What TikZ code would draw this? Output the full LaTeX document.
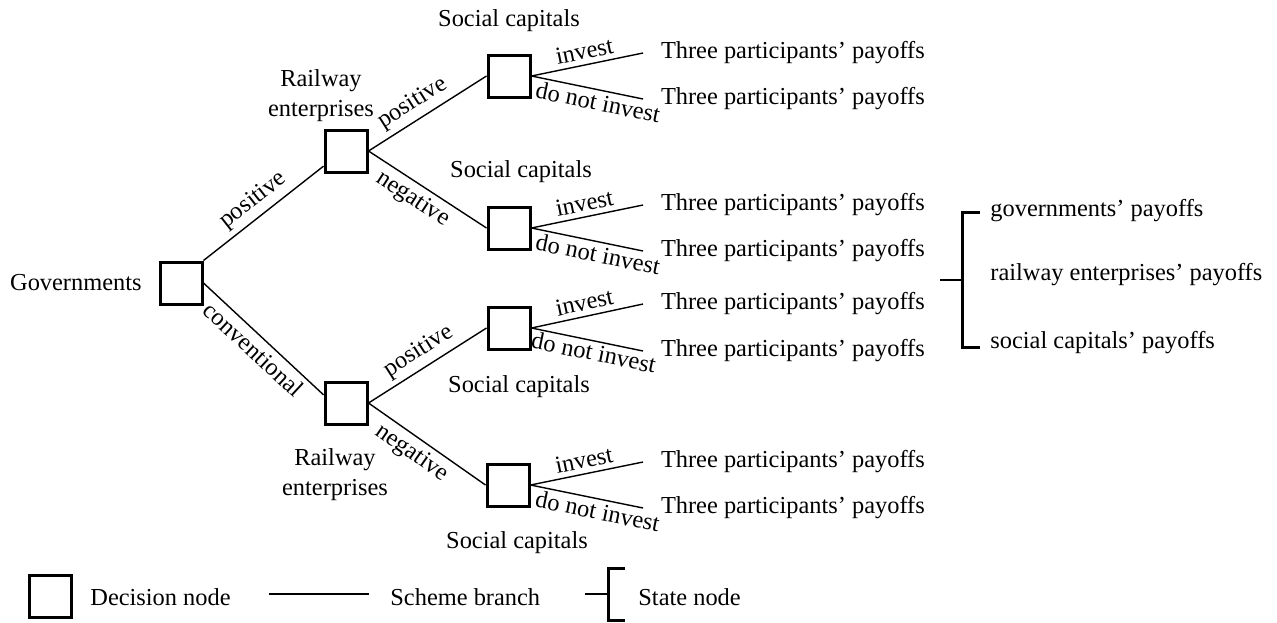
\documentclass[tikz,border=0pt]{standalone}
\usepackage{fontspec}
\setmainfont{Liberation Serif}
\usetikzlibrary{calc}

\begin{document}
\begin{tikzpicture}[
  x=0.5pt, y=-0.5pt,
  every node/.style={font=\fontsize{12.2}{15}\selectfont},
  dbox/.style={draw, line width=1.5pt, minimum size=21pt, inner sep=0pt},
  branch/.style={line width=0.7pt},
  txt/.style={inner sep=0pt},
  pay/.style={anchor=west, inner sep=0pt, outer xsep=9pt},
  elab/.style={sloped, inner sep=2.5pt},
  bracket/.style={line width=1.5pt}
]
  \useasboundingbox (0,0) rectangle (1277,622);

  % decision nodes
  \node[dbox] (gov) at (181,283) {};
  \node[txt, anchor=east] (govlab) at (142,283) {Governments};
  \node[dbox] (rail1) at (346,151) {};
  \node[txt, align=center] (rail1lab) at (321,96) {Railway\\enterprises};
  \node[dbox] (rail2) at (346,403) {};
  \node[txt, align=center] (rail2lab) at (335,475) {Railway\\enterprises};
  \node[dbox] (soc1) at (509,76) {};
  \node[txt] (soc1lab) at (509,21) {Social capitals};
  \node[dbox] (soc2) at (509,228) {};
  \node[txt] (soc2lab) at (521,172) {Social capitals};
  \node[dbox] (soc3) at (509,328) {};
  \node[txt] (soc3lab) at (519,387) {Social capitals};
  \node[dbox] (soc4) at (508,485) {};
  \node[txt] (soc4lab) at (517,543) {Social capitals};

  % payoffs
  \node[pay] (pay1) at (643,53) {Three participants’ payoffs};
  \node[pay] (pay2) at (643,99) {Three participants’ payoffs};
  \node[pay] (pay3) at (643,205) {Three participants’ payoffs};
  \node[pay] (pay4) at (643,251) {Three participants’ payoffs};
  \node[pay] (pay5) at (643,304) {Three participants’ payoffs};
  \node[pay] (pay6) at (643,351) {Three participants’ payoffs};
  \node[pay] (pay7) at (643,462) {Three participants’ payoffs};
  \node[pay] (pay8) at (643,508) {Three participants’ payoffs};

  % scheme branches
  \draw[branch] (gov.north east) -- node[elab, above] {positive} (rail1.214);
  \draw[branch] (gov.east) -- node[elab, below] {conventional} (rail2.160);
  \draw[branch] (rail1.east) -- node[elab, above, pos=0.45] {positive} (soc1.west);
  \draw[branch] (rail1.east) -- node[elab, below, pos=0.45] {negative} (soc2.west);
  \draw[branch] (rail2.east) -- node[elab, above] {positive} (soc3.west);
  \draw[branch] (rail2.east) -- node[elab, below, pos=0.45] {negative} (soc4.west);
  \draw[branch] (soc1.east) -- node[elab, above] {invest} (pay1.west);
  \draw[branch] (soc1.east) -- node[elab, below, pos=0.62, inner sep=1.5pt] {do not invest} (pay2.west);
  \draw[branch] (soc2.east) -- node[elab, above] {invest} (pay3.west);
  \draw[branch] (soc2.east) -- node[elab, below, pos=0.62, inner sep=1.5pt] {do not invest} (pay4.west);
  \draw[branch] (soc3.east) -- node[elab, above] {invest} (pay5.west);
  \draw[branch] (soc3.east) -- node[elab, below, pos=0.58, inner sep=1pt] {do not invest} (pay6.west);
  \draw[branch] (soc4.east) -- node[elab, above] {invest} (pay7.west);
  \draw[branch] (soc4.east) -- node[elab, below, pos=0.62, inner sep=1.5pt] {do not invest} (pay8.west);

  % state node
  \coordinate (state) at (962,280);
  \draw[bracket] ($(state)+(18,-68)$) -- ($(state)+(0,-68)$) -- ($(state)+(0,67)$) -- ($(state)+(18,67)$);
  \draw[branch] ($(state)+(-22,0)$) -- (state);
  \node[txt, anchor=west] (govpay) at (990,211) {governments’ payoffs};
  \node[txt, anchor=west] (railpay) at (990,275) {railway enterprises’ payoffs};
  \node[txt, anchor=west] (socpay) at (990,343) {social capitals’ payoffs};

  % legend
  \node[dbox] (legbox) at (50,596) {};
  \node[txt, anchor=west] (legdec) at (90,597) {Decision node};
  \coordinate (legla) at (269,594);
  \coordinate (leglb) at (369,594);
  \draw[branch] (legla) -- (leglb);
  \node[txt, anchor=west] (legsch) at (390,597) {Scheme branch};
  \coordinate (legst) at (608,594);
  \draw[bracket] ($(legst)+(17,-26)$) -- ($(legst)+(0,-26)$) -- ($(legst)+(0,26)$) -- ($(legst)+(17,26)$);
  \draw[branch] ($(legst)+(-23,0)$) -- (legst);
  \node[txt, anchor=west] (legstate) at (638,597) {State node};
\end{tikzpicture}
\end{document}
